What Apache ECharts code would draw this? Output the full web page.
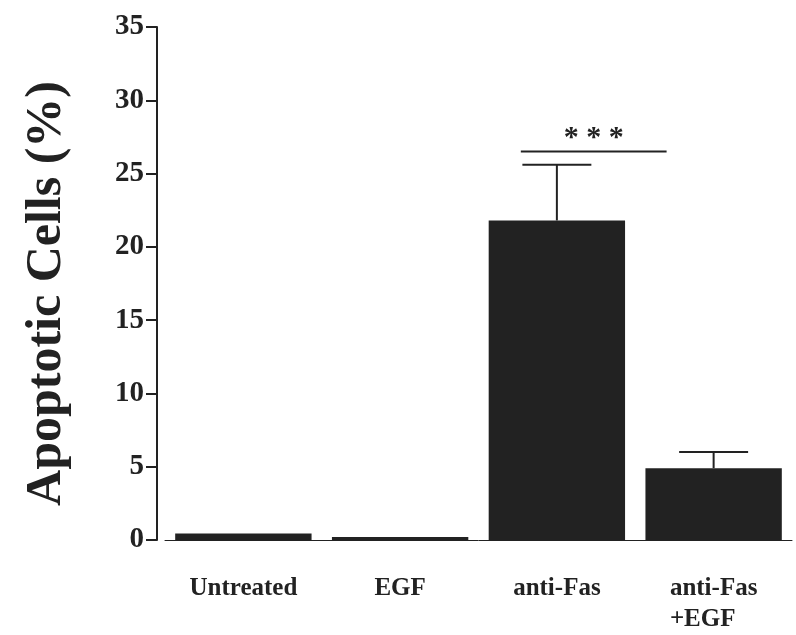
<!DOCTYPE html>
<html>
<head>
<meta charset="utf-8">
<script src="https://cdn.jsdelivr.net/npm/echarts@6/dist/echarts.min.js"></script>
<style>
html,body{margin:0;padding:0;background:#fff;}
#chart{width:796px;height:635px;}
</style>
</head>
<body>
<div id="chart"></div>
<script>
var categories = ['Untreated', 'EGF', 'anti-Fas', 'anti-Fas\n+EGF'];
var meanValues = [0.45, 0.2, 21.8, 4.9];
var errorTops = [null, null, 25.6, 6.0];
var yTicks = [0, 5, 10, 15, 20, 25, 30, 35];
var sigFromIndex = 2;
var sigLevel = 26.5;
var sigLabel = '* * *';

var font = '"Liberation Serif", "Times New Roman", serif';
var chart = echarts.init(document.getElementById('chart'));

var errData = [];
for (var i = 0; i < errorTops.length; i++) {
  if (errorTops[i] != null) errData.push([i, meanValues[i], errorTops[i]]);
}

chart.setOption({
  animation: false,
  grid: {left: 165, right: 4, top: 27, bottom: 90, containLabel: false},
  xAxis: {
    type: 'category',
    data: categories,
    axisLine: {show: true, lineStyle: {color: '#222', width: 1}},
    axisTick: {show: false},
    axisLabel: {
      margin: 33,
      color: '#222',
      fontFamily: font,
      fontWeight: 'bold',
      fontSize: 25,
      lineHeight: 31,
      formatter: function (v) {
        var parts = v.split('\n');
        if (parts.length > 1) return '{l|' + parts[0] + '}\n{l|' + parts[1] + '}';
        return v;
      },
      rich: {l: {align: 'left', fontFamily: font, fontWeight: 'bold', fontSize: 25, color: '#222', lineHeight: 31}}
    }
  },
  yAxis: {
    type: 'value',
    min: 0, max: 35, interval: 5,
    offset: 8,
    name: 'Apoptotic Cells (%)',
    nameLocation: 'middle',
    nameGap: 85,
    nameRotate: 90,
    nameTextStyle: {fontFamily: font, fontWeight: 'bold', fontSize: 50, color: '#222', padding: [0, 20, 0, 0]},
    axisLine: {show: true, lineStyle: {color: '#222', width: 2}},
    axisTick: {show: true, length: 11, lineStyle: {color: '#222', width: 2}},
    splitLine: {show: false},
    axisLabel: {
      margin: 13,
      color: '#222',
      fontFamily: font,
      fontWeight: 'bold',
      fontSize: 29
    }
  },
  series: [
    {
      type: 'bar',
      data: meanValues,
      barWidth: '87%',
      itemStyle: {color: '#222222'},
      z: 2
    },
    {
      type: 'custom',
      data: errData,
      z: 3,
      renderItem: function (params, api) {
        var x = api.value(0);
        var base = api.coord([x, api.value(1)]);
        var top = api.coord([x, api.value(2)]);
        var band = api.size([1, 0])[0];
        var half = band * 0.22;
        return {
          type: 'group',
          children: [
            {type: 'line', shape: {x1: base[0], y1: base[1], x2: top[0], y2: top[1]}, style: {stroke: '#222', lineWidth: 2}},
            {type: 'line', shape: {x1: top[0] - half, y1: top[1], x2: top[0] + half, y2: top[1]}, style: {stroke: '#222', lineWidth: 2}}
          ]
        };
      }
    },
    {
      type: 'custom',
      data: [[sigFromIndex, sigLevel]],
      z: 3,
      renderItem: function (params, api) {
        var p = api.coord([api.value(0), api.value(1)]);
        var band = api.size([1, 0])[0];
        var x1 = p[0] - band * 0.23;
        var x2 = p[0] + band * 0.70;
        return {
          type: 'group',
          children: [
            {type: 'line', shape: {x1: x1, y1: p[1], x2: x2, y2: p[1]}, style: {stroke: '#222', lineWidth: 2}},
            {type: 'text', style: {text: sigLabel, x: (x1 + x2) / 2, y: p[1] + 2, textAlign: 'center', textVerticalAlign: 'bottom', font: 'bold 30px ' + font, fill: '#222'}}
          ]
        };
      }
    }
  ]
});
</script>
</body>
</html>
